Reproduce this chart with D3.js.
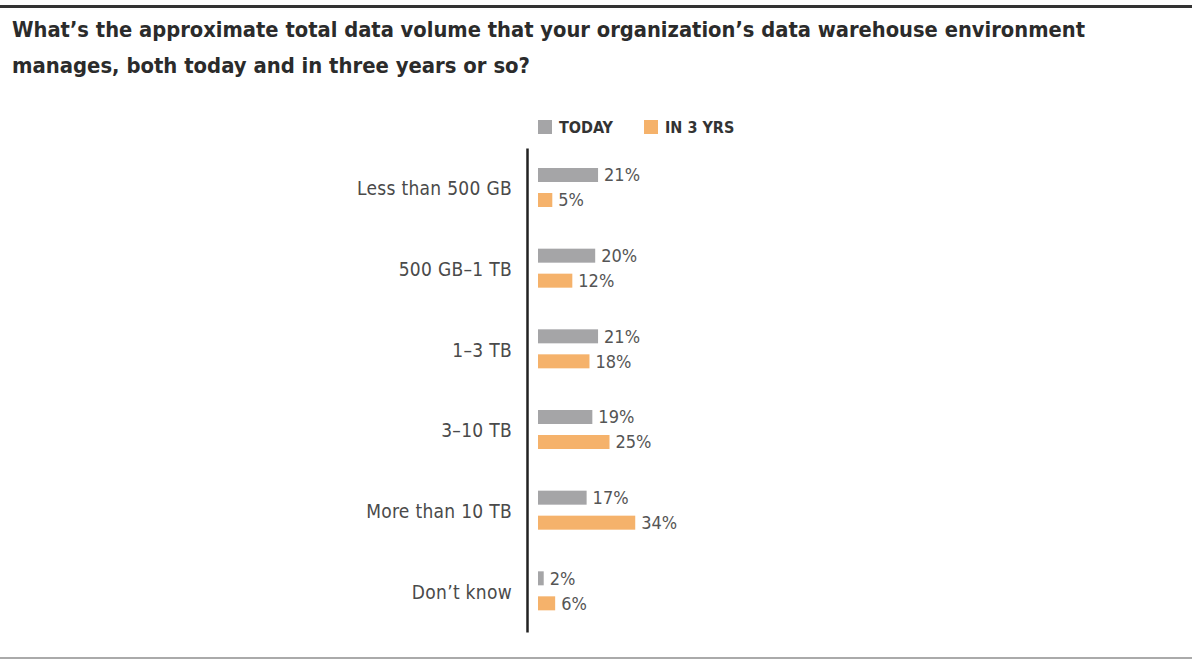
<!DOCTYPE html>
<html>
<head>
<meta charset="utf-8">
<script src="https://cdn.jsdelivr.net/npm/d3@7"></script>
<style>
  body { margin: 0; background: #fff; }
  svg { display: block; }
  .narrow { font-family: "Liberation Sans Narrow", "DejaVu Sans Condensed", "Liberation Sans", sans-serif; }
</style>
</head>
<body>
<svg id="mychart" width="1192" height="660"></svg>
<script>
// chart data
const titleLines = [
  "What\u2019s the approximate total data volume that your organization\u2019s data warehouse environment",
  "manages, both today and in three years or so?"
];
const categories = ["Less than 500 GB", "500 GB\u20131 TB", "1\u20133 TB", "3\u201310 TB", "More than 10 TB", "Don\u2019t know"];
const seriesNames = ["TODAY", "IN 3 YRS"];
const today = [21, 20, 21, 19, 17, 2];
const in3yrs = [5, 12, 18, 25, 34, 6];

const colors = ["#a5a5a7", "#f5b26b"];

const svg = d3.select("#mychart");
const width = 1192, height = 660;

// frame rules
svg.append("rect").attr("x", 0).attr("y", 5).attr("width", width).attr("height", 3).attr("fill", "#333");
svg.append("rect").attr("x", 0).attr("y", 657).attr("width", width).attr("height", 2).attr("fill", "#aaa");

// title, fitted to the width it has in the original
const titleWidths = [1073, 518];
svg.selectAll(".title")
  .data(titleLines)
  .join("text")
  .attr("class", "title narrow")
  .attr("x", 12)
  .attr("y", (d, i) => 37 + i * 36)
  .attr("font-size", 22)
  .attr("font-weight", "bold")
  .attr("fill", "#2b2b2b")
  .attr("textLength", (d, i) => titleWidths[i])
  .attr("lengthAdjust", "spacingAndGlyphs")
  .text(d => d);

// scales
const yScale = d3.scaleBand().domain(categories).range([148, 632]);
const ySub = d3.scaleBand().domain(seriesNames).range([20, 59]).paddingInner(0.44);
const xScale = d3.scaleLinear().domain([0, 100]).range([538, 824]);

const rows = categories.map((c, i) => ({ cat: c, values: [today[i], in3yrs[i]] }));

const groups = svg.selectAll(".group")
  .data(rows)
  .join("g")
  .attr("class", "group")
  .attr("transform", d => `translate(0,${yScale(d.cat)})`);

groups.selectAll("rect")
  .data(d => d.values.map((v, i) => ({ key: seriesNames[i], v, i })))
  .join("rect")
  .attr("x", xScale(0))
  .attr("y", d => ySub(d.key))
  .attr("width", d => xScale(d.v) - xScale(0))
  .attr("height", ySub.bandwidth())
  .attr("fill", d => colors[d.i]);

groups.selectAll(".val")
  .data(d => d.values.map((v, i) => ({ key: seriesNames[i], v, i })))
  .join("text")
  .attr("class", "val narrow")
  .attr("x", d => xScale(d.v) + 6)
  .attr("y", d => ySub(d.key) + ySub.bandwidth() / 2)
  .attr("dy", "0.36em")
  .attr("font-size", 18)
  .attr("fill", "#555")
  .text(d => d.v + "%");

// category labels
groups.append("text")
  .attr("class", "narrow")
  .attr("x", 512)
  .attr("y", yScale.bandwidth() / 2)
  .attr("dy", "0.36em")
  .attr("text-anchor", "end")
  .attr("font-size", 19)
  .attr("fill", "#4a4a4a")
  .attr("letter-spacing", 0.3)
  .text(d => d.cat);

// axis line
const axis = d3.axisLeft(yScale).tickSize(0).tickFormat("");
svg.append("g")
  .attr("transform", `translate(527,0)`)
  .call(axis)
  .call(g => g.select(".domain").attr("stroke", "#222").attr("stroke-width", 2.5));

// legend
const legendX = [538, 644];
const legend = svg.selectAll(".legend")
  .data(seriesNames)
  .join("g")
  .attr("class", "legend")
  .attr("transform", (d, i) => `translate(${legendX[i]},120)`);
legend.append("rect").attr("width", 14).attr("height", 14).attr("fill", (d, i) => colors[i]);
legend.append("text")
  .attr("class", "narrow")
  .attr("x", 21)
  .attr("y", 7)
  .attr("dy", "0.36em")
  .attr("font-size", 16)
  .attr("font-weight", "bold")
  .attr("fill", "#333")
  .text(d => d);
</script>
</body>
</html>
